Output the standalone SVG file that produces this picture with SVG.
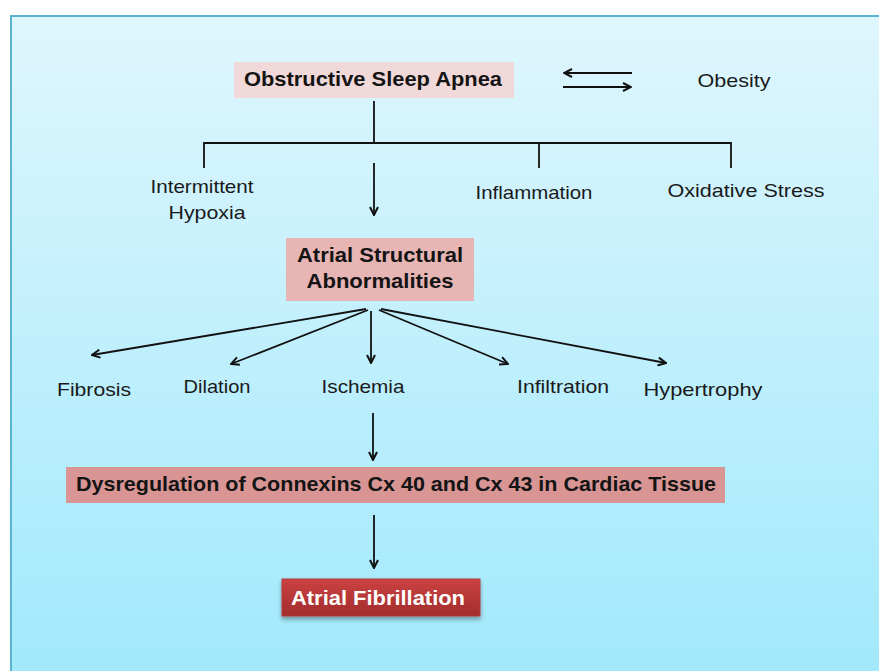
<svg xmlns="http://www.w3.org/2000/svg" width="879" height="671" viewBox="0 0 879 671">
<defs>
<linearGradient id="bg" x1="0" y1="0" x2="0" y2="1">
<stop offset="0" stop-color="#dff6fd"/>
<stop offset="1" stop-color="#a1e9fc"/>
</linearGradient>
<linearGradient id="red" x1="0" y1="0" x2="0" y2="1">
<stop offset="0" stop-color="#cc4242"/>
<stop offset="1" stop-color="#a22c2c"/>
</linearGradient>
<marker id="ah" viewBox="0 0 10 10" refX="9" refY="5" markerWidth="10" markerHeight="10" markerUnits="userSpaceOnUse" orient="auto">
<path d="M1,1 L9,5 L1,9" fill="none" stroke="#111" stroke-width="2"/>
</marker>
<filter id="sh" x="-10%" y="-20%" width="120%" height="160%">
<feDropShadow dx="0" dy="3" stdDeviation="2" flood-color="#000" flood-opacity="0.35"/>
</filter>
</defs>
<style>
.lbl{font-family:"Liberation Sans",Arial,sans-serif;font-size:19px;fill:#1a1a1a;text-anchor:middle}
.bt{font-family:"Liberation Sans",Arial,sans-serif;font-size:21px;font-weight:bold;fill:#141414;text-anchor:middle}
.ln{stroke:#111;stroke-width:1.8;fill:none}
.ar{stroke:#111;stroke-width:1.8;fill:none;marker-end:url(#ah)}
</style>
<rect x="0" y="0" width="879" height="671" fill="#ffffff"/>
<rect x="11" y="16" width="870" height="660" fill="url(#bg)" stroke="#5ab3cf" stroke-width="2"/>

<g id="connectors">
<line class="ar" x1="632" y1="73" x2="564" y2="73"/>
<line class="ar" x1="563" y1="87" x2="631" y2="87"/>
<line class="ln" x1="374" y1="101" x2="374" y2="143"/>
<polyline class="ln" points="204,168 204,143 731,143 731,168"/>
<line class="ln" x1="539" y1="143" x2="539" y2="168"/>
<line class="ar" x1="374" y1="163" x2="374" y2="215"/>
<line class="ar" x1="366" y1="309" x2="92" y2="355"/>
<line class="ar" x1="368" y1="310" x2="231" y2="364"/>
<line class="ar" x1="371" y1="311" x2="371" y2="363"/>
<line class="ar" x1="379" y1="310" x2="508" y2="364"/>
<line class="ar" x1="381" y1="309" x2="666" y2="363"/>
<line class="ar" x1="373" y1="413" x2="373" y2="460"/>
<line class="ar" x1="374" y1="515" x2="374" y2="568"/>
</g>

<g id="osa">
<rect x="234" y="62" width="280" height="36" fill="#f1d9d9"/>
<text class="bt" x="373" y="86" textLength="258" lengthAdjust="spacingAndGlyphs">Obstructive Sleep Apnea</text>
</g>
<g id="obesity">
<text class="lbl" x="734" y="87" textLength="73" lengthAdjust="spacingAndGlyphs">Obesity</text>
</g>
<g id="hypoxia">
<text class="lbl" x="202" y="193" textLength="103" lengthAdjust="spacingAndGlyphs">Intermittent</text>
<text class="lbl" x="207" y="219" textLength="77" lengthAdjust="spacingAndGlyphs">Hypoxia</text>
</g>
<g id="inflammation">
<text class="lbl" x="534" y="199" textLength="117" lengthAdjust="spacingAndGlyphs">Inflammation</text>
</g>
<g id="oxidative">
<text class="lbl" x="746" y="197" textLength="157" lengthAdjust="spacingAndGlyphs">Oxidative Stress</text>
</g>
<g id="asa">
<rect x="286" y="238" width="188" height="63" fill="#e7b5b4"/>
<text class="bt" x="380" y="262" textLength="166" lengthAdjust="spacingAndGlyphs">Atrial Structural</text>
<text class="bt" x="380" y="288" textLength="147" lengthAdjust="spacingAndGlyphs">Abnormalities</text>
</g>
<g id="fibrosis"><text class="lbl" x="94" y="396" textLength="74" lengthAdjust="spacingAndGlyphs">Fibrosis</text></g>
<g id="dilation"><text class="lbl" x="217" y="393" textLength="67" lengthAdjust="spacingAndGlyphs">Dilation</text></g>
<g id="ischemia"><text class="lbl" x="363" y="393" textLength="83" lengthAdjust="spacingAndGlyphs">Ischemia</text></g>
<g id="infiltration"><text class="lbl" x="563" y="393" textLength="92" lengthAdjust="spacingAndGlyphs">Infiltration</text></g>
<g id="hypertrophy"><text class="lbl" x="703" y="396" textLength="119" lengthAdjust="spacingAndGlyphs">Hypertrophy</text></g>
<g id="dysregulation">
<rect x="66" y="467" width="659" height="36" fill="#d99594"/>
<text class="bt" x="396" y="491" textLength="640" lengthAdjust="spacingAndGlyphs">Dysregulation of Connexins Cx 40 and Cx 43 in Cardiac Tissue</text>
</g>
<g id="af">
<rect x="282" y="579" width="198" height="37" fill="url(#red)" stroke="#b53a3a" stroke-width="1" filter="url(#sh)"/>
<text class="bt" x="378" y="605" style="fill:#ffffff" textLength="174" lengthAdjust="spacingAndGlyphs">Atrial Fibrillation</text>
</g>
</svg>
